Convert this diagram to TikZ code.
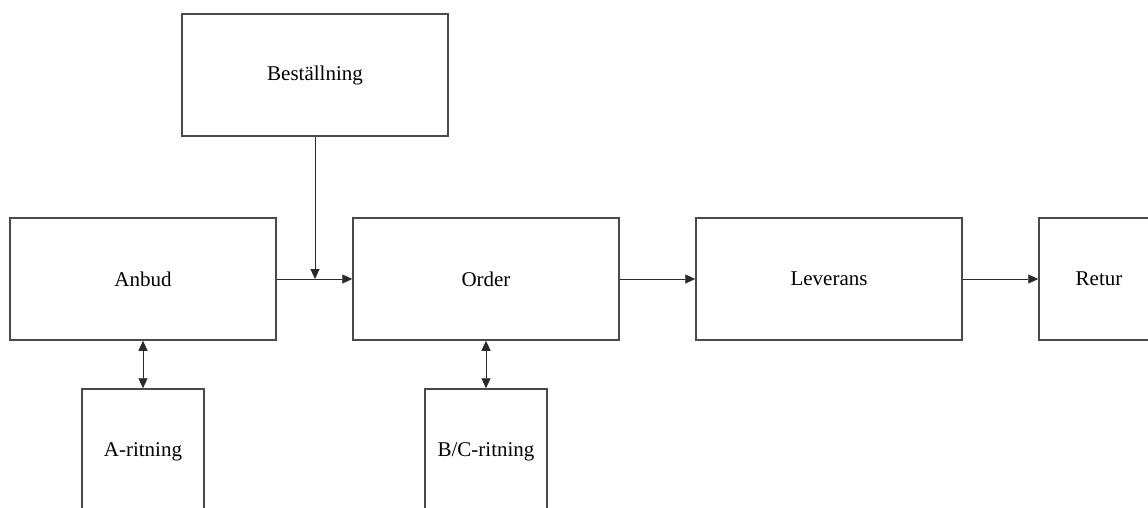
\documentclass[tikz,border=0pt]{standalone}
\usepackage{fontspec}
\setmainfont{Liberation Serif}
\usetikzlibrary{arrows.meta}
\definecolor{boxline}{HTML}{4A4A4A}
\definecolor{arrline}{HTML}{2A2A2A}
\begin{document}
\begin{tikzpicture}[x=1pt,y=-1pt,
  box/.style={draw=boxline,line width=1.5pt,fill=white,inner sep=0pt,
    minimum width=266pt,minimum height=122pt,font=\fontsize{21}{25}\selectfont},
  conn/.style={draw=arrline,line width=0.9pt,-{Triangle[length=10pt,width=9pt]}},
  dconn/.style={draw=arrline,line width=0.9pt,{Triangle[length=10pt,width=9pt]}-{Triangle[length=10pt,width=9pt]}}]
\useasboundingbox (0,0) rectangle (1148,507);
\clip (0,0) rectangle (1148,507);
\fill[white] (0,0) rectangle (1148,507);
\node[box] (best) at (315,75) {Beställning};
\node[box] (anbud) at (143,279) {Anbud};
\node[box] (order) at (486,279) {Order};
\node[box] (lev) at (829,279) {Leverans};
\node[box,minimum width=120pt] (retur) at (1099,279) {Retur};
\node[box,minimum width=122pt,minimum height=126pt] (arit) at (143,452) {A-ritning};
\node[box,minimum width=122pt,minimum height=126pt] (bcrit) at (486,452) {B/C-ritning};
\coordinate (j) at (best.south |- anbud.east);
\draw[conn] (anbud.east) -- (order.west);
\draw[conn] (best.south) -- (j);
\draw[conn] (order.east) -- (lev.west);
\draw[conn] (lev.east) -- (retur.west);
\draw[dconn] (anbud.south) -- (arit.north);
\draw[dconn] (order.south) -- (bcrit.north);
\end{tikzpicture}
\end{document}
